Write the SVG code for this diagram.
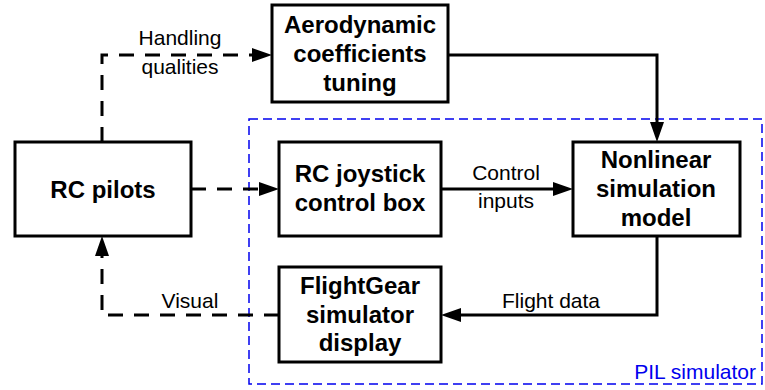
<svg xmlns="http://www.w3.org/2000/svg" width="765" height="390" viewBox="0 0 765 390">
<style>
.box{fill:#fff;stroke:#000;stroke-width:3}
.t{font-family:"Liberation Sans",Arial,sans-serif;font-size:24px;font-weight:bold;text-anchor:middle;fill:#000}
.l{font-family:"Liberation Sans",Arial,sans-serif;font-size:21px;text-anchor:middle;fill:#000}
.c{fill:none;stroke:#000;stroke-width:3}
.d{stroke-dasharray:15 11}
.pil{fill:none;stroke:#0000ee;stroke-width:1.5;stroke-dasharray:9 5}
</style>
<defs>
<marker id="ah" markerUnits="userSpaceOnUse" markerWidth="20" markerHeight="14" refX="0" refY="7" orient="auto" overflow="visible">
<path d="M0,0 L20,7 L0,14 Z" fill="#000"/>
</marker>
</defs>
<rect width="765" height="390" fill="#fff"/>
<g id="pil-simulator">
<rect class="pil" x="249" y="119" width="513" height="265"/>
<text x="756" y="379" style="font-family:'Liberation Sans',Arial,sans-serif;font-size:21px;text-anchor:end;fill:#0000ee">PIL simulator</text>
</g>
<g id="connectors">
<path class="c d" d="M102,142 V55 H252" marker-end="url(#ah)"/>
<path class="c d" d="M191,189 H259" marker-end="url(#ah)"/>
<path class="c" d="M441,189 H553" marker-end="url(#ah)"/>
<path class="c" d="M448,55 H657 V122" marker-end="url(#ah)"/>
<path class="c" d="M657,236 V315 H461" marker-end="url(#ah)"/>
<path class="c d" d="M279,315 H102 V256" marker-end="url(#ah)"/>
<text class="l" x="180" y="45">Handling</text>
<text class="l" x="180" y="74">qualities</text>
<text class="l" x="506" y="180">Control</text>
<text class="l" x="506" y="208">inputs</text>
<text class="l" x="551" y="308">Flight data</text>
<text class="l" x="190" y="308">Visual</text>
</g>
<g id="aero">
<rect class="box" x="272" y="5" width="176" height="97"/>
<text class="t" x="360" y="33">Aerodynamic</text>
<text class="t" x="360" y="62">coefficients</text>
<text class="t" x="360" y="91">tuning</text>
</g>
<g id="rc-pilots">
<rect class="box" x="15" y="142" width="176" height="94"/>
<text class="t" x="103" y="198">RC pilots</text>
</g>
<g id="joystick">
<rect class="box" x="279" y="142" width="162" height="94"/>
<text class="t" x="360" y="182">RC joystick</text>
<text class="t" x="360" y="211">control box</text>
</g>
<g id="nonlinear">
<rect class="box" x="573" y="142" width="167" height="94"/>
<text class="t" x="656" y="168">Nonlinear</text>
<text class="t" x="656" y="197">simulation</text>
<text class="t" x="656" y="226">model</text>
</g>
<g id="flightgear">
<rect class="box" x="279" y="267" width="162" height="95"/>
<text class="t" x="360" y="294">FlightGear</text>
<text class="t" x="360" y="323">simulator</text>
<text class="t" x="360" y="351">display</text>
</g>
</svg>
